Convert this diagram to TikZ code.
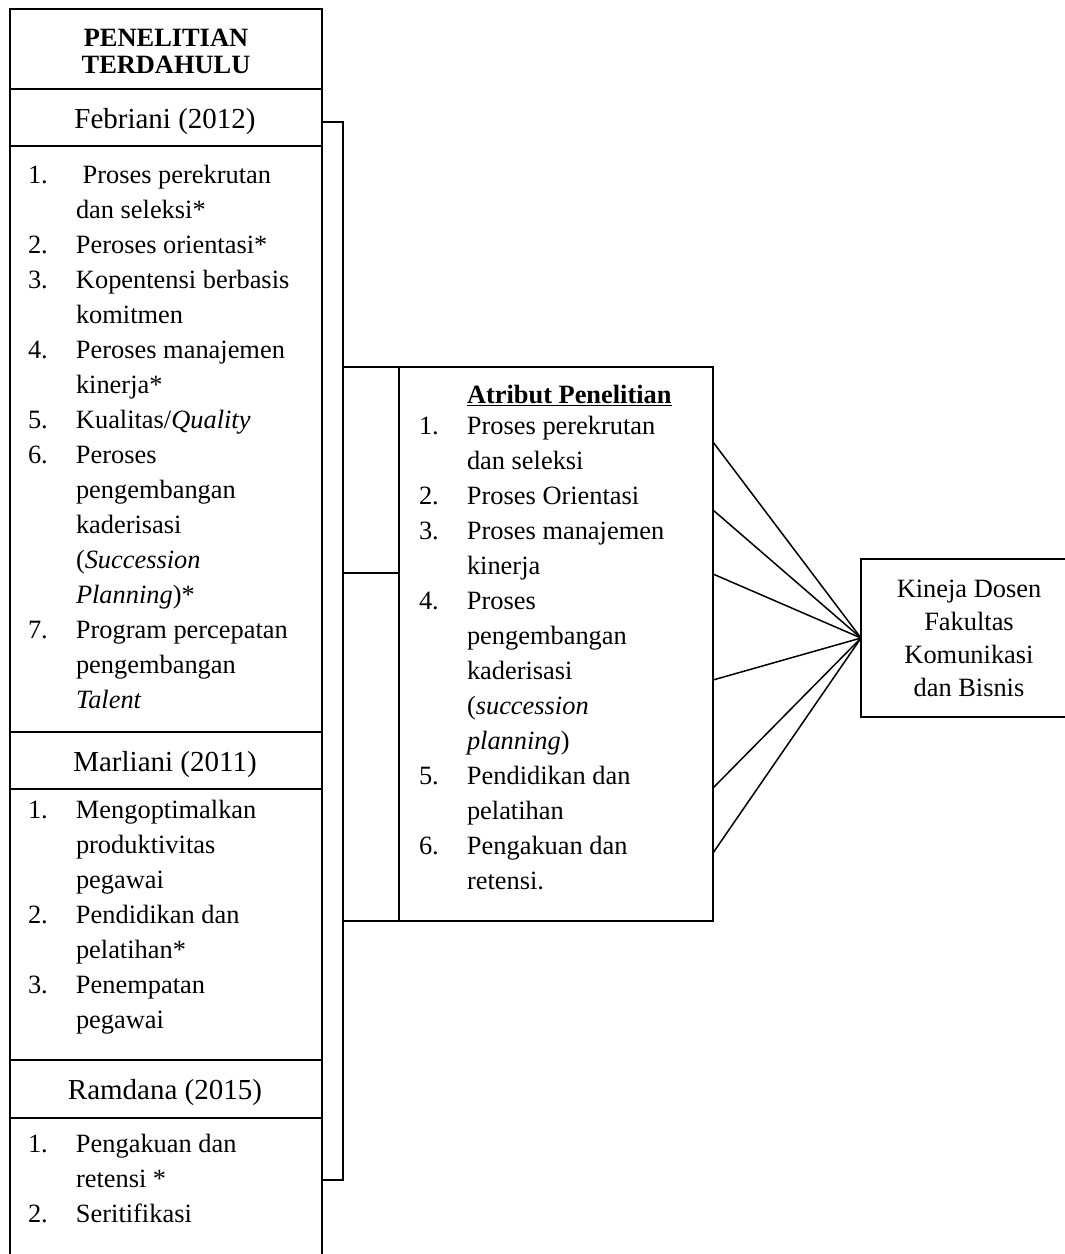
\documentclass[tikz,border=0pt]{standalone}
\usepackage{fontspec}
\setmainfont{Liberation Serif}
\newcommand{\nomor}[1]{\makebox[48pt][l]{#1}}
\newcommand{\lanjut}{\hspace*{48pt}}
\begin{document}
\begin{tikzpicture}[x=1pt, y=-1pt, line join=miter, line width=2pt]
				\tikzset{every node/.style={inner sep=0pt, outer sep=0pt, font=\fontsize{26.4}{35}\selectfont},
					judul/.style={anchor=base, font=\fontsize{29}{35}\selectfont},
					daftar/.style={anchor=base west, align=left},
					garis/.style={line width=1.5pt}}
				\def\xmin{0}\def\xmax{1065}\def\ymin{0}\def\ymax{1254}
				\useasboundingbox (\xmin,\ymin) rectangle (\xmax,\ymax);
				\clip (\xmin,\ymin) rectangle (\xmax,\ymax);
				%Kolom penelitian terdahulu
				\node[draw, minimum width=312, minimum height=1300, anchor=north west] (kiri) at (10,9) {};
				\foreach \y in {89,146,732,789,1060,1118} \draw (kiri.west |- 0,\y) -- (kiri.east |- 0,\y);
				\node[align=center, font=\bfseries\fontsize{26.4}{27}\selectfont] (hdr) at (166,51) {PENELITIAN\\TERDAHULU};
				\node[judul] (feb) at (165,128) {Febriani (2012)};
				\node[judul] (mar) at (165,771) {Marliani (2011)};
				\node[judul] (ram) at (165,1099) {Ramdana (2015)};
				% anchor base = baris terakhir
				\node[daftar] (lfeb) at (28,708) {\nomor{1.}\ Proses perekrutan\\
					\lanjut dan seleksi*\\
					\nomor{2.}Peroses orientasi*\\
					\nomor{3.}Kopentensi berbasis\\
					\lanjut komitmen\\
					\nomor{4.}Peroses manajemen\\
					\lanjut kinerja*\\
					\nomor{5.}Kualitas/\textit{Quality}\\
					\nomor{6.}Peroses\\
					\lanjut pengembangan\\
					\lanjut kaderisasi\\
					\lanjut (\textit{Succession}\\
					\lanjut \textit{Planning})*\\
					\nomor{7.}Program percepatan\\
					\lanjut pengembangan\\
					\lanjut \textit{Talent}};
				\node[daftar] (lmar) at (28,1028) {\nomor{1.}Mengoptimalkan\\
					\lanjut produktivitas\\
					\lanjut pegawai\\
					\nomor{2.}Pendidikan dan\\
					\lanjut pelatihan*\\
					\nomor{3.}Penempatan\\
					\lanjut pegawai};
				\node[daftar] (lram) at (28,1222) {\nomor{1.}Pengakuan dan\\
					\lanjut retensi *\\
					\nomor{2.}Seritifikasi};
				%Atribut penelitian
				\node[draw, minimum width=370, minimum height=554, anchor=north west] (atr) at (343,367) {};
				\draw ([xshift=56pt]atr.north west) -- ([xshift=56pt]atr.south west);
				\draw (atr.west |- 0,573) -- (399,573);
				\node[daftar] (latr) at (419,889) {\lanjut\underline{\textbf{Atribut Penelitian}}\\[-4pt]
					\nomor{1.}Proses perekrutan\\
					\lanjut dan seleksi\\
					\nomor{2.}Proses Orientasi\\
					\nomor{3.}Proses manajemen\\
					\lanjut kinerja\\
					\nomor{4.}Proses\\
					\lanjut pengembangan\\
					\lanjut kaderisasi\\
					\lanjut (\textit{succession}\\
					\lanjut \textit{planning})\\
					\nomor{5.}Pendidikan dan\\
					\lanjut pelatihan\\
					\nomor{6.}Pengakuan dan\\
					\lanjut retensi.};
				%Kurung penghubung
				\coordinate (ka) at (kiri.east |- 0,122);
				\coordinate (kb) at (kiri.east |- 0,1180);
				\draw (ka) -- (atr.west |- ka) -- (atr.west |- kb) -- (kb);
				%Kinerja
				\node[draw, minimum width=216, minimum height=158, align=center, font=\fontsize{26.4}{33}\selectfont] (kin) at (969,638) {Kineja Dosen\\Fakultas\\Komunikasi\\dan Bisnis};
				\foreach \y in {442,510,574,680,788,853} \draw[garis] (atr.east |- 0,\y) -- (kin.west);
			\end{tikzpicture}
\end{document}
